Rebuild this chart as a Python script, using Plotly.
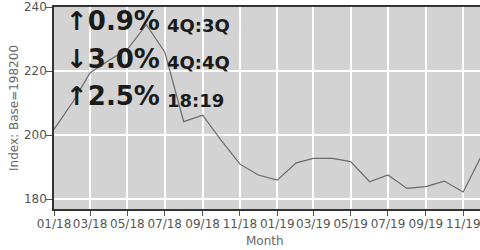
import plotly.graph_objects as go

months = ["2018-01-01", "2018-02-01", "2018-03-01", "2018-04-01", "2018-05-01", "2018-06-01",
          "2018-07-01", "2018-08-01", "2018-09-01", "2018-10-01", "2018-11-01", "2018-12-01",
          "2019-01-01", "2019-02-01", "2019-03-01", "2019-04-01", "2019-05-01", "2019-06-01",
          "2019-07-01", "2019-08-01", "2019-09-01", "2019-10-01", "2019-11-01", "2019-12-01"]
index_values = [201.8, 210.4, 219.5, 223.4, 226.8, 234.5,
                226.0, 204.2, 206.2, 198.4, 190.9, 187.5,
                185.9, 191.3, 192.7, 192.7, 191.7, 185.4,
                187.5, 183.3, 183.9, 185.6, 182.2, 193.6]
big_labels = ["\u21910.9%", "\u21933.0%", "\u21912.5%"]
small_labels = ["4Q:3Q", "4Q:4Q", "18:19"]
y_ticks = [180, 200, 220, 240]
edge_tick = "2019-11-01"   # last tick, whose label runs off the right edge

fig = go.Figure()
fig.add_trace(go.Scatter(x=months, y=index_values, mode="lines",
                         line=dict(color="#6a6a6a", width=1.2), showlegend=False))

rows_big = [0.930, 0.742, 0.558]
rows_small = [0.910, 0.723, 0.538]
for lbl, yy in zip(big_labels, rows_big):
    fig.add_annotation(text="<b>" + lbl + "</b>", xref="paper", yref="paper", x=0.0235, y=yy,
                       xanchor="left", yanchor="middle", showarrow=False,
                       font=dict(family="DejaVu Sans", size=26, color="#1a1a1a"))
for lbl, yy in zip(small_labels, rows_small):
    fig.add_annotation(text="<b>" + lbl + "</b>", xref="paper", yref="paper", x=0.26, y=yy,
                       xanchor="left", yanchor="middle", showarrow=False,
                       font=dict(family="DejaVu Sans", size=18, color="#1a1a1a"))

# axis titles as annotations
fig.add_annotation(text="Index: Base=198200", xref="paper", yref="paper", x=-0.094, y=0.5,
                   xanchor="center", yanchor="middle", textangle=-90, showarrow=False,
                   font=dict(family="DejaVu Sans", size=12, color="#666"))
fig.add_annotation(text="Month", xref="paper", yref="paper", x=0.495, y=-0.158,
                   xanchor="center", yanchor="middle", showarrow=False,
                   font=dict(family="DejaVu Sans", size=12, color="#666"))
# last tick label (plotly hides labels that overflow the figure edge)
fig.add_annotation(text="11/19", xref="x", yref="paper", x=edge_tick, y=-0.072,
                   xanchor="center", yanchor="middle", showarrow=False,
                   font=dict(family="DejaVu Sans", size=12, color="#555"))

fig.update_layout(
    width=480, height=250,
    margin=dict(l=54, r=0, t=7, b=41),
    paper_bgcolor="white", plot_bgcolor="#d3d3d3",
    font=dict(family="DejaVu Sans", size=12, color="#555"),
)
fig.update_xaxes(
    type="date", range=["2018-01-01", "2019-11-28 10:00"],
    tickformat="%m/%y", dtick="M2", tick0="2018-01-01", tickangle=0,
    showgrid=True, gridcolor="white", gridwidth=1.5,
    showline=True, linecolor="#333", linewidth=1.5, mirror=True,
    ticks="outside", ticklen=5, tickcolor="#555", ticklabelstandoff=-2,
    tickfont=dict(family="DejaVu Sans", size=12, color="#555"),
    zeroline=False, automargin=False,
)
fig.update_yaxes(
    range=[176.875, 240.05], tickvals=y_ticks,
    showgrid=True, gridcolor="white", gridwidth=1.5,
    showline=True, linecolor="#333", linewidth=1.5,
    ticks="outside", ticklen=6, tickcolor="#555", ticklabelstandoff=-3,
    tickfont=dict(family="DejaVu Sans", size=12, color="#555"),
    zeroline=False, automargin=False,
)

fig.write_html("out.html", config={"displayModeBar": False},
               post_script="document.body.style.margin='0';document.documentElement.style.overflow='hidden';")
